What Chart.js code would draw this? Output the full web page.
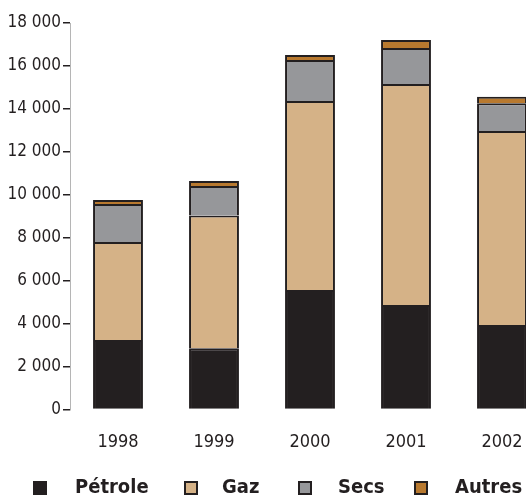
<!DOCTYPE html>
<html>
<head>
<meta charset="utf-8">
<script src="https://cdn.jsdelivr.net/npm/chart.js@4/dist/chart.umd.min.js"></script>
<style>
  html, body { margin: 0; padding: 0; background: #fff; overflow: hidden; }
  #wrap { width: 526px; height: 496px; overflow: hidden; }
  canvas { display: block; }
</style>
</head>
<body>
<div id="wrap"><canvas id="c" width="560" height="496"></canvas></div>
<script>
// Years on the horizontal axis
const years = ['1998', '1999', '2000', '2001', '2002'];

// Stacked series values
const petrole = [3240, 2850, 5570, 4870, 3940];
const gaz     = [4560, 6180, 8800, 10290, 9030];
const secs    = [1770, 1380, 1910, 1680, 1290];
const autres  = [190, 230, 230, 370, 310];

// Vertical axis ticks
const yTicks = [0, 2000, 4000, 6000, 8000, 10000, 12000, 14000, 16000, 18000];

const seriesNames = ['Pétrole', 'Gaz', 'Secs', 'Autres'];
const seriesColors = ['#231f20', '#d5b287', '#96979a', '#b8792f'];

const INK = '#231f20';
const FONT = '"DejaVu Sans Condensed", "DejaVu Sans", sans-serif';

const fmt = v => String(v).replace(/\B(?=(\d{3})+(?!\d))/g, ' ');

// Legend drawn along the bottom of the page
const bottomLegend = {
  id: 'bottomLegend',
  afterDraw(chart) {
    const ctx = chart.ctx;
    const boxX = [33, 184, 298, 414];
    const textX = [75, 222, 338, 455];
    const cy = 488;
    ctx.save();
    chart.data.datasets.forEach((ds, i) => {
      ctx.fillStyle = ds.backgroundColor;
      ctx.fillRect(boxX[i], cy - 7, 14, 14);
      ctx.strokeStyle = INK;
      ctx.lineWidth = 2;
      ctx.strokeRect(boxX[i] + 1, cy - 6, 12, 12);
      ctx.fillStyle = INK;
      ctx.font = 'bold 20px ' + FONT;
      ctx.textBaseline = 'middle';
      ctx.textAlign = 'left';
      ctx.fillText(ds.label, textX[i], cy);
    });
    ctx.restore();
  }
};

const values = [petrole, gaz, secs, autres];

new Chart(document.getElementById('c'), {
  type: 'bar',
  data: {
    labels: years,
    datasets: values.map((v, i) => ({
      label: seriesNames[i],
      data: v,
      backgroundColor: seriesColors[i],
      borderColor: INK,
      borderWidth: 2,
      borderSkipped: 'bottom',
      categoryPercentage: 1,
      barPercentage: 0.52
    }))
  },
  options: {
    responsive: false,
    animation: false,
    devicePixelRatio: 1,
    layout: { padding: { top: 23, right: 10, bottom: 0, left: 0 } },
    plugins: {
      legend: { display: false },
      tooltip: { enabled: false }
    },
    scales: {
      x: {
        stacked: true,
        grid: { display: false },
        border: { display: false },
        ticks: {
          color: INK,
          font: { family: FONT, size: 18 },
          padding: 14
        },
        afterFit(scale) { scale.height = 86.5; }
      },
      y: {
        stacked: true,
        min: 0,
        max: 18000,
        afterBuildTicks(scale) { scale.ticks = yTicks.map(v => ({ value: v })); },
        grid: {
          drawOnChartArea: false,
          tickLength: 7,
          tickColor: INK,
          lineWidth: 1.5
        },
        border: {
          display: true,
          color: '#b5b5b5',
          width: 1,
          dash: [1, 5]
        },
        ticks: {
          color: INK,
          font: { family: FONT, size: 17 },
          padding: 2,
          callback: v => fmt(v)
        },
        afterFit(scale) { scale.width = 70; }
      }
    }
  },
  plugins: [bottomLegend]
});
</script>
</body>
</html>
